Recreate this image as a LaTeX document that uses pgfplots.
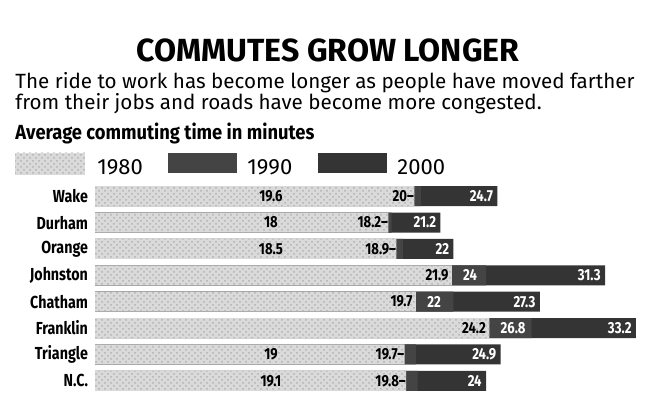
\documentclass[border=0pt]{standalone}
\usepackage{pgfplots}
\pgfplotsset{compat=1.18}
\usetikzlibrary{patterns}
\usepackage{fontspec}
\setmainfont{Fira Sans}
\newfontfamily\cond{Fira Sans}[FakeStretch=0.82]
\newfontfamily\condb{Fira Sans}[FakeStretch=0.9]
\definecolor{light}{RGB}{218,218,218}
\definecolor{mid}{RGB}{68,68,68}
\definecolor{dark}{RGB}{52,52,52}
\pgfplotstableread{
y v80 v90 v00
0 19.6 20   24.7
1 18   18.2 21.2
2 18.5 18.9 22
3 21.9 24   31.3
4 19.7 22   27.3
5 24.2 26.8 33.2
6 19   19.7 24.9
7 19.1 19.8 24
}\data
\begin{document}
\begin{tikzpicture}[x=0.5pt,y=0.5pt]
\path[use as bounding box] (0,0) rectangle (654,416);
\node[anchor=base, inner sep=0] at (328,416-62) {\fontsize{16}{18}\selectfont\bfseries COMMUTES GROW LONGER};
\node[anchor=base west, inner sep=0] at (15,416-89) {\fontsize{10.3}{12}\selectfont The ride to work has become longer as people have moved farther};
\node[anchor=base west, inner sep=0] at (15,416-110) {\fontsize{10.3}{12}\selectfont from their jobs and roads have become more congested.};
\node[anchor=base west, inner sep=0] at (15,416-140) {\condb\bfseries\fontsize{10.2}{12}\selectfont Average commuting time in minutes};
% legend
\fill[light] (15,416-153) rectangle (85,416-175);
\path[pattern=crosshatch dots, pattern color=black!30] (15,416-153) rectangle (85,416-175);
\node[anchor=base west, inner sep=0] at (97,416-175) {\fontsize{11}{13}\selectfont 1980};
\fill[mid] (168,416-153) rectangle (237,416-173);
\node[anchor=base west, inner sep=0] at (247,416-175) {\fontsize{11}{13}\selectfont 1990};
\fill[dark] (318,416-153) rectangle (387,416-173);
\node[anchor=base west, inner sep=0] at (397,416-175) {\fontsize{11}{13}\selectfont 2000};
\begin{axis}[
  at={(47.5pt,11pt)}, anchor=south west, scale only axis,
  width=277pt, height=105.5pt,
  xbar, bar width=0.76, bar shift=0pt,
  xmin=0, xmax=34, ymin=-0.5, ymax=7.5, y dir=reverse,
  ytick={0,...,7},
  yticklabels={Wake,Durham,Orange,Johnston,Chatham,Franklin,Triangle,N.C.},
  xtick=\empty, axis line style={draw=none}, major tick length=0pt,
  yticklabel style={font=\cond\bfseries\fontsize{8.7}{10}\selectfont, xshift=0pt},
  clip=false,
]
\addplot[fill=dark, draw=none,
  nodes near coords, point meta=explicit,
  nodes near coords style={anchor=east, text=white, inner sep=2pt, font=\cond\bfseries\fontsize{8}{9}\selectfont, /pgf/number format/fixed, /pgf/number format/assume math mode=true}]
  table[x=v00, y=y, meta=v00] {\data};
\addplot[fill=mid, draw=none] table[x=v90, y=y] {\data};
\addplot[fill=light, draw=none, postaction={pattern=crosshatch dots, pattern color=black!30}] table[x=v80, y=y] {\data};
% 1980 labels
\begin{scope}[every node/.style={font=\cond\bfseries\fontsize{8}{9}\selectfont, inner sep=1.5pt}]
\node at (axis cs:10.8,0) {19.6};
\node at (axis cs:10.8,1) {18};
\node at (axis cs:10.8,2) {18.5};
\node at (axis cs:10.8,6) {19};
\node at (axis cs:10.8,7) {19.1};
\node[anchor=east] at (axis cs:21.9,3) {21.9};
\node[anchor=east] at (axis cs:19.7,4) {19.7};
\node[anchor=east] at (axis cs:24.2,5) {24.2};
% 1990 labels
\node[anchor=east, inner sep=0pt] at (axis cs:19.6,0) {20–};
\node[anchor=east, inner sep=0pt] at (axis cs:18,1) {18.2–};
\node[anchor=east, inner sep=0pt] at (axis cs:18.5,2) {18.9–};
\node[anchor=east, inner sep=0pt] at (axis cs:19,6) {19.7–};
\node[anchor=east, inner sep=0pt] at (axis cs:19.1,7) {19.8–};
\node[anchor=west, text=white, xshift=4pt] at (axis cs:21.9,3) {24};
\node[anchor=west, text=white, xshift=4pt] at (axis cs:19.7,4) {22};
\node[anchor=west, text=white, xshift=4pt] at (axis cs:24.2,5) {26.8};
\end{scope}
\end{axis}
\end{tikzpicture}
\end{document}
